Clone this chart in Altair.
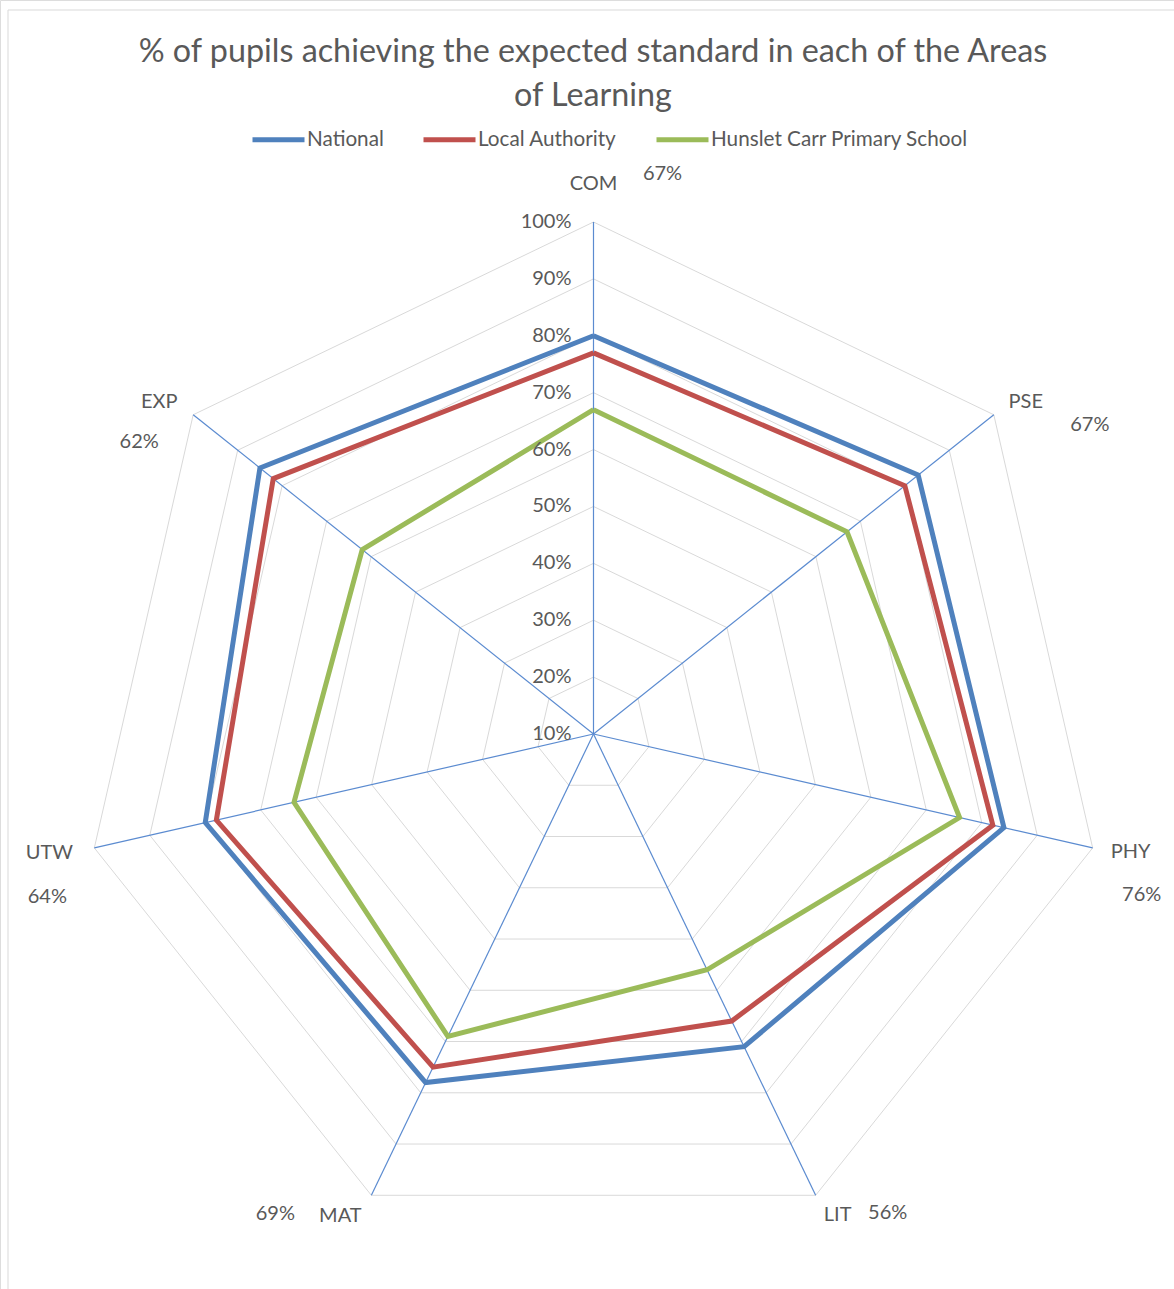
import altair as alt
import pandas as pd

# ---- data -------------------------------------------------------------
categories = ["COM", "PSE", "PHY", "LIT", "MAT", "UTW", "EXP"]
series_names = ["National", "Local Authority", "Hunslet Carr Primary School"]
national = [80, 83, 84, 71, 78, 80, 85]
local_authority = [77, 80, 82, 66, 75, 78, 82]
school = [67, 67, 76, 56, 69, 64, 62]
grid_levels = [10, 20, 30, 40, 50, 60, 70, 80, 90, 100]
series_colors = ["#4F81BD", "#C0504D", "#9BBB59"]

title_lines = [
    "% of pupils achieving the expected standard in each of the Areas",
    "of Learning",
]

# ---- geometry of the radar ------------------------------------------------
W, H = 1174, 1289
CX, CY = 593.5, 734.0          # centre of the web, in pixels
R_MIN, R_MAX = 10, 100         # radial axis runs from 10% at the centre to 100%
PX_PER_UNIT = 512 / (R_MAX - R_MIN)
N = len(categories)

x_scale = alt.Scale(domain=[-CX / PX_PER_UNIT, (W - CX) / PX_PER_UNIT], nice=False, zero=False)
y_scale = alt.Scale(domain=[-(H - CY) / PX_PER_UNIT, CY / PX_PER_UNIT], nice=False, zero=False)

TEXT = "#595959"
FONT = "Lato"

ANGLE = f"datum.k * 2 * PI / {N}"


def polar(radius_expr):
    """Transforms turning (k, radius) into cartesian px/py in radial units."""
    return [
        alt.CalculateTransform(calculate=ANGLE, **{"as": "ang"}),
        alt.CalculateTransform(calculate=f"({radius_expr}) * sin(datum.ang)", **{"as": "px"}),
        alt.CalculateTransform(calculate=f"({radius_expr}) * cos(datum.ang)", **{"as": "py"}),
    ]


def xy(chart_obj, xf="px", yf="py"):
    return chart_obj.encode(
        x=alt.X(f"{xf}:Q", scale=x_scale, axis=None),
        y=alt.Y(f"{yf}:Q", scale=y_scale, axis=None),
    )


# ---- tables ---------------------------------------------------------------
rows = []
for name, vals in zip(series_names, [national, local_authority, school]):
    for k in range(N + 1):                      # repeat first point to close the polygon
        rows.append({"series": name, "k": k % N, "step": k, "value": vals[k % N]})
series_df = pd.DataFrame(rows)

ring_df = pd.DataFrame(
    [{"level": lv, "k": k % N, "step": k} for lv in grid_levels[1:] for k in range(N + 1)]
)
spoke_df = pd.DataFrame({"cat": categories, "k": list(range(N))})
tick_df = pd.DataFrame({"level": grid_levels})
label_df = pd.DataFrame({"cat": categories, "k": list(range(N)), "value": school})

# ---- layers ---------------------------------------------------------------
frame = alt.Chart(pd.DataFrame({"f": [0]})).mark_rect(
    filled=False, stroke="#D9D9D9", strokeWidth=1
).encode(x=alt.value(8), x2=alt.value(W + 50), y=alt.value(10), y2=alt.value(H + 50))

rings = xy(alt.Chart(ring_df).mark_line(stroke="#D9D9D9", strokeWidth=1)).encode(
    detail="level:N", order="step:Q"
)
rings.transform = [alt.CalculateTransform(calculate=f"datum.level - {R_MIN}", **{"as": "r"})] + polar("datum.r")

spokes = alt.Chart(spoke_df).mark_rule(stroke="#5B8BD0", strokeWidth=1.2).encode(
    x=alt.X("cx:Q", scale=x_scale, axis=None),
    y=alt.Y("cy:Q", scale=y_scale, axis=None),
    x2="px:Q",
    y2="py:Q",
)
spokes.transform = [
    alt.CalculateTransform(calculate="0", **{"as": "cx"}),
    alt.CalculateTransform(calculate="0", **{"as": "cy"}),
] + polar(f"{R_MAX - R_MIN}")

lines = xy(
    alt.Chart(series_df).mark_line(strokeWidth=5, strokeJoin="miter")
).encode(
    color=alt.Color(
        "series:N",
        scale=alt.Scale(domain=series_names, range=series_colors),
        legend=alt.Legend(
            orient="none",
            legendX=250,
            legendY=111,
            direction="horizontal",
            title=None,
            symbolType="stroke",
            symbolSize=2704,
            symbolStrokeWidth=5,
            labelFont=FONT,
            labelFontSize=20.7,
            labelColor=TEXT,
            labelOffset=0,
            labelLimit=600,
            columnPadding=29,
        ),
    ),
    order="step:Q",
)
lines.transform = polar(f"datum.value - {R_MIN}")

ticks = alt.Chart(tick_df).mark_text(
    align="right", baseline="middle", dx=-22, font=FONT, fontSize=20, color=TEXT
).encode(
    x=alt.X("cx:Q", scale=x_scale, axis=None),
    y=alt.Y("r:Q", scale=y_scale, axis=None),
    text="txt:N",
)
ticks.transform = [
    alt.CalculateTransform(calculate="0", **{"as": "cx"}),
    alt.CalculateTransform(calculate=f"datum.level - {R_MIN}", **{"as": "r"}),
    alt.CalculateTransform(calculate="datum.level + '%'", **{"as": "txt"}),
]

# nudges of the category names and value labels away from the spoke ends
cat_nudge = {
    "COM": (0, -38), "PSE": (32, -13), "PHY": (38, 4), "LIT": (22, 20),
    "MAT": (-31, 21), "UTW": (-45, 5), "EXP": (-34, -13),
}
val_nudge = {
    "COM": (69, -48), "PSE": (96, 10), "PHY": (49, 47), "LIT": (72, 18),
    "MAT": (-96, 19), "UTW": (-47, 49), "EXP": (-54, 27),
}

text_layers = []
for cat in categories:
    cdx, cdy = cat_nudge[cat]
    vdx, vdy = val_nudge[cat]
    base = alt.Chart(label_df)
    cl = xy(
        base.mark_text(align="center", baseline="middle", dx=cdx, dy=cdy,
                       font=FONT, fontSize=20, color=TEXT)
    ).encode(text="cat:N")
    cl.transform = [alt.FilterTransform(filter=f"datum.cat == '{cat}'")] + polar(f"{R_MAX - R_MIN}")
    vl = xy(
        base.mark_text(align="center", baseline="middle", dx=vdx, dy=vdy,
                       font=FONT, fontSize=20, color=TEXT)
    ).encode(text="txt:N")
    vl.transform = [
        alt.FilterTransform(filter=f"datum.cat == '{cat}'"),
        alt.CalculateTransform(calculate="datum.value + '%'", **{"as": "txt"}),
    ] + polar(f"{R_MAX - R_MIN}")
    text_layers += [cl, vl]

chart = alt.layer(frame, rings, spokes, lines, ticks, *text_layers).properties(
    width=W,
    height=H,
    autosize=alt.AutoSizeParams(type="none"),
    padding=0,
    title=alt.Title(
        text=title_lines,
        font=FONT,
        fontSize=32.3,
        fontWeight="normal",
        color=TEXT,
        anchor="middle",
        baseline="top",
        offset=0,
        dx=6,
        dy=112,
        lineHeight=44,
    ),
).configure_view(stroke=None).configure(background="white")

chart.save("out.html", embed_options={"renderer": "svg", "actions": False})
